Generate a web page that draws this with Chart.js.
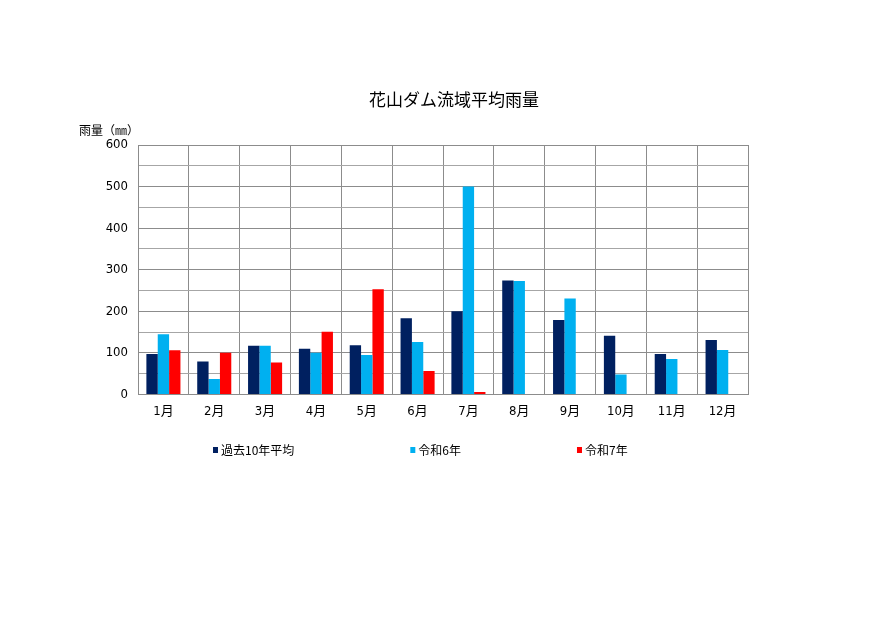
<!DOCTYPE html>
<html lang="ja">
<head>
<meta charset="utf-8">
<title>花山ダム流域平均雨量</title>
<script src="https://cdn.jsdelivr.net/npm/chart.js@4/dist/chart.umd.min.js"></script>
<style>
  body { margin: 0; background: #fff; }
  canvas { display: block; }
</style>
</head>
<body>
<canvas id="rainChart" width="890" height="630"></canvas>
<script>
// data (mm)
const months = ['1月', '2月', '3月', '4月', '5月', '6月', '7月', '8月', '9月', '10月', '11月', '12月'];
const avg10y = [97, 79, 117, 110, 118, 183, 200, 274, 179, 141, 97, 131];
const reiwa6 = [145, 37, 117, 100, 95, 126, 500, 273, 231, 48, 85, 107];
const reiwa7 = [106, 100, 77, 151, 253, 56, 6, null, null, null, null, null];
const seriesNames = ['過去10年平均', '令和6年', '令和7年'];
const seriesColors = ['#002060', '#00b0f0', '#ff0000'];
const yMax = 600;
const yStep = 50;

const chartTitle = '花山ダム流域平均雨量';
const unitLabel = '雨量（㎜）';

const jpFont = '"Noto Sans CJK JP", sans-serif';
const numFont = '"Liberation Sans Narrow", "DejaVu Sans Condensed", "Noto Sans CJK JP", sans-serif';

// title, unit label and the widely spaced legend are drawn here
const textPlugin = {
  id: 'texts',
  afterDraw(chart) {
    const { ctx, chartArea } = chart;
    ctx.save();
    ctx.fillStyle = '#000';
    ctx.textBaseline = 'middle';

    ctx.font = '17px ' + jpFont;
    ctx.textAlign = 'center';
    ctx.fillText(chartTitle, 454, 100);

    ctx.font = '12px ' + jpFont;
    ctx.textAlign = 'left';
    ctx.fillText(unitLabel, 79, chartArea.top - 15);

    // legend
    let x = 213;
    const y = 450;
    chart.data.datasets.forEach(ds => {
      ctx.fillStyle = ds.backgroundColor;
      ctx.fillRect(x, y - 3, 5, 6);
      ctx.fillStyle = '#000';
      ctx.fillText(ds.label, x + 8, y);
      x += 8 + ctx.measureText(ds.label).width + 116;
    });
    ctx.restore();
  }
};

new Chart(document.getElementById('rainChart'), {
  type: 'bar',
  data: {
    labels: months,
    datasets: [
      { label: seriesNames[0], data: avg10y, backgroundColor: seriesColors[0] },
      { label: seriesNames[1], data: reiwa6, backgroundColor: seriesColors[1] },
      { label: seriesNames[2], data: reiwa7, backgroundColor: seriesColors[2] }
    ]
  },
  options: {
    responsive: false,
    animation: false,
    categoryPercentage: 0.67,
    barPercentage: 1.0,
    layout: {
      padding: { top: 145, right: 142, bottom: 202, left: 0 }
    },
    plugins: {
      legend: { display: false },
      title: { display: false },
      tooltip: { enabled: false }
    },
    scales: {
      x: {
        grid: { color: '#8c8c8c', drawTicks: false },
        border: { color: '#8c8c8c' },
        ticks: { color: '#000', padding: 9, font: { family: numFont, size: 13 } }
      },
      y: {
        min: 0,
        max: yMax,
        afterFit: s => { s.width = 138; },
        grid: {
          drawTicks: false,
          color: ctx => (ctx.tick && ctx.tick.value % 100 === 0) ? '#8c8c8c' : '#a6a6a6'
        },
        border: { color: '#8c8c8c' },
        ticks: {
          stepSize: yStep,
          padding: 10,
          color: '#000',
          font: { family: numFont, size: 13 },
          callback: v => (v % 100 === 0 ? v : '')
        }
      }
    }
  },
  plugins: [textPlugin]
});
</script>
</body>
</html>
